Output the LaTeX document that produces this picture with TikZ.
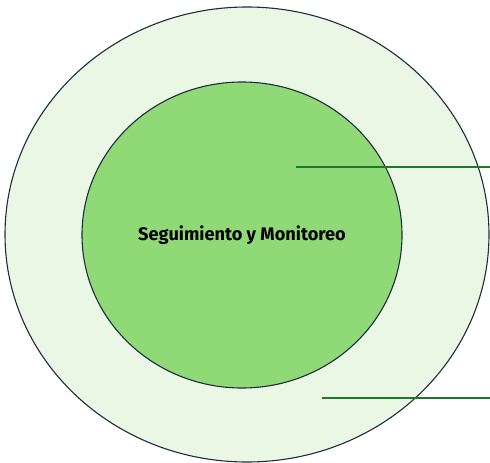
\documentclass[tikz,border=0pt]{standalone}
\usepackage{fontspec}
\setsansfont{Fira Sans}
\usetikzlibrary{positioning,shapes.geometric}
\definecolor{PaleGreen}{RGB}{235,247,229}
\definecolor{MidGreen}{RGB}{143,217,118}
\definecolor{LeafGreen}{RGB}{30,120,40}
\definecolor{EdgeNavy}{RGB}{30,45,60}

\begin{document}
\begin{tikzpicture}[x=1pt, y=-1pt,
    ring/.style={ellipse, draw=EdgeNavy, line width=1.1pt, inner sep=0pt},
    leader/.style={draw=LeafGreen, line width=2.6pt}
]
    \useasboundingbox (0,0) rectangle (490,463);
    \node[ring, fill=PaleGreen, minimum width=484pt, minimum height=455pt] (outer) at (247,234.5) {};
    \node[ring, fill=MidGreen, minimum width=320pt, minimum height=306pt,
          font=\sffamily\bfseries\fontsize{18.2}{22}\selectfont] (inner) at (242,235) {Seguimiento y Monitoreo};

    \coordinate (tipA) at (296,167);
    \coordinate (endA) at (490,167);
    \coordinate (tipB) at (322,398);
    \coordinate (endB) at (490,398);

    \draw[leader] (tipA) -- (endA);
    \draw[leader] (tipB) -- (endB);
\end{tikzpicture}
\end{document}
